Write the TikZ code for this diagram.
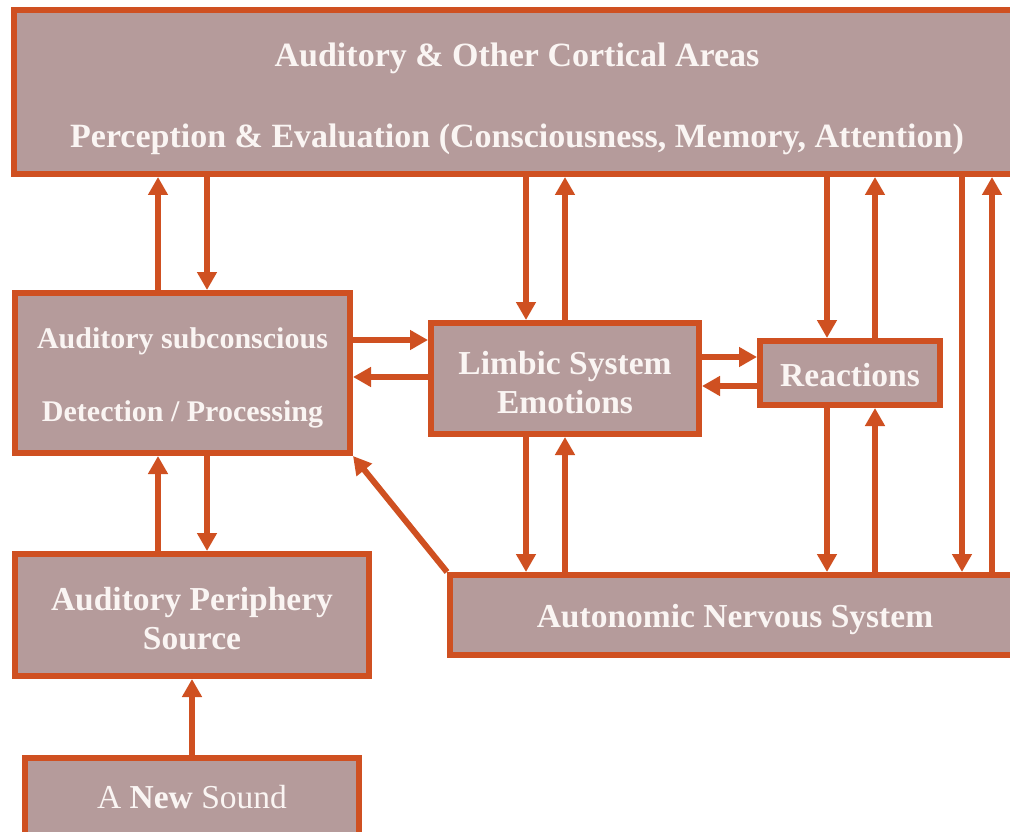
\documentclass[tikz,border=0pt]{standalone}
\usepackage{fontspec}
\setmainfont{Liberation Serif}
\usetikzlibrary{arrows.meta}
\definecolor{bord}{RGB}{207,80,33}
\definecolor{boxfill}{RGB}{181,155,155}
\definecolor{boxtext}{RGB}{250,245,243}
% lower (or raise) a block of centred lines without changing its size
\newcommand\boxlines[2]{\raisebox{#1}[\height][\depth]{\begin{tabular}{@{}c@{}}#2\end{tabular}}}
\begin{document}
\begin{tikzpicture}[x=1pt,y=-1pt,
  box/.style={draw=bord,fill=boxfill,line width=6pt,inner sep=0pt,text=boxtext,
    font=\fontsize{33.5}{39}\selectfont\bfseries},
  arr/.style={draw=bord,line width=6pt,-{Triangle[length=18pt,width=19pt]}}]
\clip (0,0) rectangle (1010,832);
\fill[white] (0,0) rectangle (1010,832);
% boxes
\node[box,minimum width=1006pt,minimum height=164pt,font=\fontsize{34}{39}\selectfont\bfseries] (top) at (517,92)
  {\boxlines{-7.5pt}{Auditory \& Other Cortical Areas\\[42pt]Perception \& Evaluation (Consciousness, Memory, Attention)}};
\node[box,minimum width=335pt,minimum height=160pt,font=\fontsize{30}{36}\selectfont\bfseries] (sub) at (182.5,373)
  {\boxlines{-5pt}{Auditory subconscious\\[37pt]Detection / Processing}};
\node[box,minimum width=354pt,minimum height=122pt] (per) at (192,615)
  {\boxlines{-7pt}{Auditory Periphery\\Source}};
\node[box,minimum width=334pt,minimum height=86pt,font=\fontsize{33.5}{39}\selectfont\mdseries] (new) at (192,801)
  {\boxlines{0pt}{A \textbf{New} Sound}};
\node[box,minimum width=268pt,minimum height=111pt] (lim) at (565,378.5)
  {\boxlines{-7.5pt}{Limbic System\\Emotions}};
\node[box,minimum width=180pt,minimum height=64pt] (rea) at (850,373)
  {\boxlines{-6pt}{Reactions}};
\node[box,minimum width=570pt,minimum height=80pt] (ans) at (735,615)
  {\boxlines{-5pt}{Autonomic Nervous System}};
% cortex <-> subconscious
\draw[arr] ([xshift=-24.5pt]sub.north) -- ([xshift=-24.5pt]sub.north |- top.south);
\draw[arr] ([xshift=24.5pt]sub.north |- top.south) -- ([xshift=24.5pt]sub.north);
% periphery <-> subconscious
\draw[arr] ([xshift=-24.5pt]sub.south |- per.north) -- ([xshift=-24.5pt]sub.south);
\draw[arr] ([xshift=24.5pt]sub.south) -- ([xshift=24.5pt]sub.south |- per.north);
% new sound -> periphery
\draw[arr] (new.north) -- (per.south);
% cortex <-> limbic
\draw[arr] ([xshift=-39pt]lim.north |- top.south) -- ([xshift=-39pt]lim.north);
\draw[arr] (lim.north) -- (lim.north |- top.south);
% limbic <-> autonomic
\draw[arr] ([xshift=-39pt]lim.south) -- ([xshift=-39pt]lim.south |- ans.north);
\draw[arr] (lim.south |- ans.north) -- (lim.south);
% subconscious <-> limbic
\draw[arr] ([yshift=33pt]sub.east) -- ([yshift=33pt]sub.east -| lim.west);
\draw[arr] ([yshift=-4pt]sub.east -| lim.west) -- ([yshift=-4pt]sub.east);
% limbic <-> reactions
\draw[arr] ([yshift=16pt]rea.west -| lim.east) -- ([yshift=16pt]rea.west);
\draw[arr] ([yshift=-13pt]rea.west) -- ([yshift=-13pt]rea.west -| lim.east);
% cortex <-> reactions
\draw[arr] ([xshift=-23pt]rea.north |- top.south) -- ([xshift=-23pt]rea.north);
\draw[arr] ([xshift=25pt]rea.north) -- ([xshift=25pt]rea.north |- top.south);
% reactions <-> autonomic
\draw[arr] ([xshift=-23pt]rea.south) -- ([xshift=-23pt]rea.south |- ans.north);
\draw[arr] ([xshift=25pt]rea.south |- ans.north) -- ([xshift=25pt]rea.south);
% cortex <-> autonomic (right side)
\draw[arr] ([xshift=445pt]top.south) -- ([xshift=445pt]top.south |- ans.north);
\draw[arr] ([xshift=475pt]top.south |- ans.north) -- ([xshift=475pt]top.south);
% autonomic -> subconscious (diagonal)
\draw[arr] (ans.north west) -- (sub.south east);
\end{tikzpicture}
\end{document}
